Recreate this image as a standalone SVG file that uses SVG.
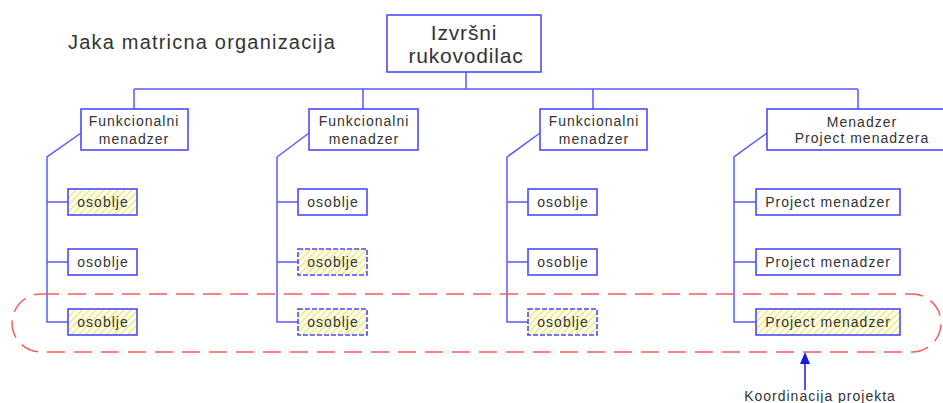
<svg xmlns="http://www.w3.org/2000/svg" width="943" height="403" viewBox="0 0 943 403">
<style>
text{font-family:"Liberation Sans",Arial,sans-serif;fill:#333;text-anchor:middle;letter-spacing:1px}
.t14{font-size:14px}
.box{fill:#fff;stroke:#4a4aff;stroke-width:1.6}
.hb{fill:url(#hatch);stroke:#4a4aff;stroke-width:1.6}
.hd{fill:url(#hatch);stroke:#4a4aff;stroke-width:1.6;stroke-dasharray:5 2}
.ln{fill:none;stroke:#5a5aff;stroke-width:1.5}
</style>
<defs>
<pattern id="hatch" patternUnits="userSpaceOnUse" width="7" height="7">
<rect width="7" height="7" fill="#fffef4"/>
<path d="M-1,8 L8,-1 M-1,1 L1,-1 M6,8 L8,6" stroke="#f2e64a" stroke-width="1.1"/>
</pattern>
</defs>
<text x="68" y="49" style="font-size:20px;letter-spacing:1.2px;text-anchor:start">Jaka matricna organizacija</text>
<g id="connectors">
<path class="ln" d="M466,72 V89 M134,89 H858 M134,89 V109 M363,89 V109 M593,89 V109 M858,89 V109"/>
<path class="ln" d="M81,133 L47,157 V322 H68 M47,202 H68 M47,262 H68"/>
<path class="ln" d="M309,133 L277,157 V322 H298 M277,202 H298 M277,262 H298"/>
<path class="ln" d="M540,133 L507,157 V322 H528 M507,202 H528 M507,262 H528"/>
<path class="ln" d="M767,133 L734,157 V322 H756 M734,202 H756 M734,262 H756"/>
</g>
<g id="exec"><rect class="box" x="387" y="15" width="154" height="57"/><text x="464" y="40" style="font-size:21px;letter-spacing:0.8px">Izvršni</text><text x="466" y="63" style="font-size:21px;letter-spacing:0.8px">rukovodilac</text></g>
<g id="fm1"><rect class="box" x="81" y="109" width="107" height="41"/><text class="t14" x="134" y="126">Funkcionalni</text><text class="t14" x="134" y="144">menadzer</text></g>
<g id="fm2"><rect class="box" x="309" y="109" width="109" height="41"/><text class="t14" x="364" y="126">Funkcionalni</text><text class="t14" x="364" y="144">menadzer</text></g>
<g id="fm3"><rect class="box" x="540" y="109" width="107" height="41"/><text class="t14" x="594" y="126">Funkcionalni</text><text class="t14" x="594" y="144">menadzer</text></g>
<g id="mpm"><rect class="box" x="767" y="109" width="190" height="41"/><text class="t14" x="862" y="127">Menadzer</text><text class="t14" x="862" y="143">Project menadzera</text></g>
<g id="o11"><rect class="hb" x="68" y="189" width="69" height="26"/><text class="t14" x="103" y="207">osoblje</text></g>
<g id="o12"><rect class="box" x="68" y="249" width="69" height="26"/><text class="t14" x="103" y="267">osoblje</text></g>
<g id="o13"><rect class="hb" x="68" y="309" width="69" height="26"/><text class="t14" x="103" y="327">osoblje</text></g>
<g id="o21"><rect class="box" x="298" y="189" width="69" height="26"/><text class="t14" x="333" y="207">osoblje</text></g>
<g id="o22"><rect class="hd" x="298" y="249" width="69" height="26"/><text class="t14" x="333" y="267">osoblje</text></g>
<g id="o23"><rect class="hd" x="298" y="309" width="69" height="26"/><text class="t14" x="333" y="327">osoblje</text></g>
<g id="o31"><rect class="box" x="528" y="189" width="69" height="26"/><text class="t14" x="563" y="207">osoblje</text></g>
<g id="o32"><rect class="box" x="528" y="249" width="69" height="26"/><text class="t14" x="563" y="267">osoblje</text></g>
<g id="o33"><rect class="hd" x="528" y="309" width="69" height="26"/><text class="t14" x="563" y="327">osoblje</text></g>
<g id="pm1"><rect class="box" x="756" y="189" width="144" height="26"/><text class="t14" x="828" y="207">Project menadzer</text></g>
<g id="pm2"><rect class="box" x="756" y="249" width="144" height="26"/><text class="t14" x="828" y="267">Project menadzer</text></g>
<g id="pm3"><rect class="hb" x="756" y="309" width="144" height="26"/><text class="t14" x="828" y="327">Project menadzer</text></g>
<g id="coord">
<rect x="12" y="294" width="929" height="58" rx="29" ry="29" fill="none" stroke="#ff5a5a" stroke-width="1.5" stroke-dasharray="18 9"/>
<line x1="805" y1="390" x2="805" y2="362" stroke="#1a1ae6" stroke-width="1.5"/>
<polygon points="805,352 800,364 810,364" fill="#1a1ae6"/>
<text class="t14" x="820" y="401">Koordinacija projekta</text>
</g>
</svg>
